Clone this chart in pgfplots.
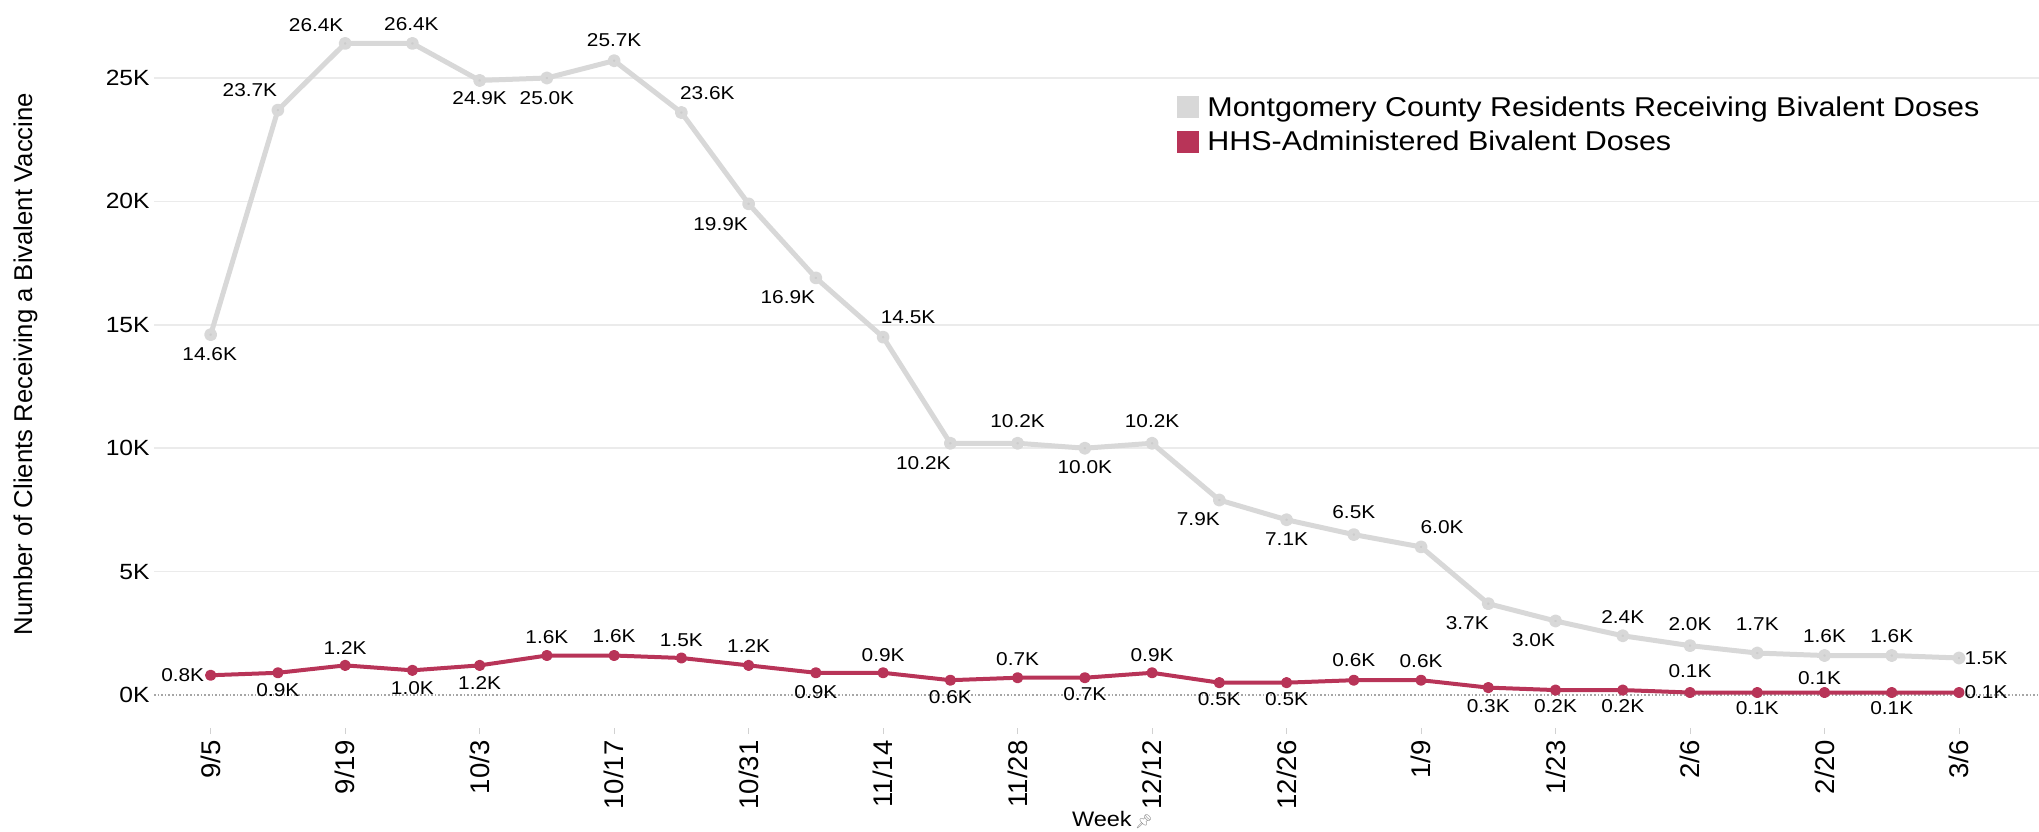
\documentclass[border=0pt]{standalone}
\usepackage{pgfplots}
\pgfplotsset{compat=1.18}
\usepackage{pgfplotstable}
\usepackage{fontspec}
\setmainfont{Liberation Sans}
\newfontfamily\tabfont{Liberation Sans}[FakeStretch=1.12]
\newfontfamily\tickfont{Liberation Sans}[FakeStretch=1.02]
\newfontfamily\emojifont{Noto Emoji}
\definecolor{mgray}{HTML}{D8D8D8}
\definecolor{mgraymark}{HTML}{CCCCCC}
\definecolor{hred}{HTML}{B83458}
\definecolor{gridc}{HTML}{EBEBEB}

% x = week index (0 = 9/5), y = thousands, dx/dy = label offset in px (dy downward)
\pgfplotstableread{
x y dx dy
0 14.6 -1 19
1 23.7 -28 -20
2 26.4 -29 -18
3 26.4 -1 -19
4 24.9 0 18
5 25.0 0 20
6 25.7 0 -21
7 23.6 26 -19
8 19.9 -28 20
9 16.9 -28 19
10 14.5 25 -20
11 10.2 -27 20
12 10.2 0 -22
13 10.0 0 19
14 10.2 0 -22
15 7.9 -21 19
16 7.1 0 19
17 6.5 0 -22
18 6.0 21 -20
19 3.7 -21 19
20 3.0 -22 19
21 2.4 0 -19
22 2.0 0 -22
23 1.7 0 -29
24 1.6 0 -19
25 1.6 0 -19
26 1.5 27 0
}\graydata

\pgfplotstableread{
x y dx dy
0 0.8 -28 0
1 0.9 0 17
2 1.2 0 -17
3 1.0 0 18
4 1.2 0 18
5 1.6 0 -18
6 1.6 0 -19
7 1.5 0 -18
8 1.2 0 -19
9 0.9 0 19
10 0.9 0 -18
11 0.6 0 17
12 0.7 0 -19
13 0.7 0 16
14 0.9 0 -18
15 0.5 0 16
16 0.5 0 16
17 0.6 0 -20
18 0.6 0 -19
19 0.3 0 18
20 0.2 0 16
21 0.2 0 16
22 0.1 0 -21
23 0.1 0 16
24 0.1 -5 -14
25 0.1 0 16
26 0.1 27 0
}\reddata

\pgfplotsset{
  lbl/.style={
    point meta=y,
    nodes near coords={\pgfmathprintnumber[fixed,fixed zerofill,precision=1,assume math mode=true]{\pgfplotspointmeta}K},
    visualization depends on={\thisrow{dx} \as \dx},
    visualization depends on={\thisrow{dy} \as \dy},
    every node near coord/.append style={anchor=center, inner sep=0pt,
      xshift=\dx*0.5pt, yshift=-\dy*0.5pt,
      font=\tabfont\fontsize{9.3}{10}\selectfont, text=black},
  },
}

\begin{document}
\begin{tikzpicture}
\begin{axis}[
  scale only axis, width=942.5pt, height=364pt,
  xmin=-0.843, xmax=27.19, ymin=-1.337, ymax=28.16,
  clip=false,
  axis line style={draw=none},
  xtick={0,2,...,26},
  xticklabels={9/5,9/19,10/3,10/17,10/31,11/14,11/28,12/12,12/26,1/9,1/23,2/6,2/20,3/6},
  xtick style={color=black!18, line width=0.5pt},
  tick align=outside, major tick length=3pt,
  xticklabel style={font=\tickfont\fontsize{13.5}{14}\selectfont, rotate=90, anchor=east, inner sep=0pt},
  xticklabel shift=3pt,
  ytick={5,10,15,20,25},
  yticklabels={5K,10K,15K,20K,25K},
  extra y ticks={0}, extra y tick labels={0K},
  extra y tick style={grid style={black!35, densely dotted, line width=0.6pt}},
  ytick style={draw=none},
  yticklabel style={font=\tabfont\fontsize{11}{12}\selectfont, anchor=east, inner sep=0pt},
  yticklabel shift=-1pt,
  ymajorgrids, grid style={gridc, line width=0.8pt},
  ylabel={Number of Clients Receiving a Bivalent Vaccine},
  ylabel style={at={(axis description cs:0,0.5)}, anchor=center, yshift=64.3pt, font=\fontsize{12.85}{14}\selectfont},
  xlabel={Week\,{\emojifont\fontsize{7}{7}\selectfont\color{black!45}📌}},
  xlabel style={at={(axis description cs:0.5,0)}, anchor=base, yshift=-49pt, xshift=8pt, font=\tabfont\fontsize{10.5}{12}\selectfont},
]
\addplot[mgray, line width=2.5pt, line join=round, mark=*, mark size=2pt,
  mark options={fill=mgraymark, draw=none}, lbl] table[x=x,y=y] {\graydata};
\addplot[hred, line width=2pt, line join=round, mark=*, mark size=1.8pt,
  mark options={fill=hred, draw=none}, lbl] table[x=x,y=y] {\reddata};
\end{axis}
\begin{scope}[shift={(current axis.north west)}, x=0.5pt, y=-0.5pt]
  \fill[mgray] (1023,96) rectangle (1045,118);
  \fill[hred] (1023,131) rectangle (1045,153);
  \node[anchor=base west, inner sep=0pt, font=\tabfont\fontsize{13.6}{15}\selectfont] at (1053,117) {Montgomery County Residents Receiving Bivalent Doses};
  \node[anchor=base west, inner sep=0pt, font=\tabfont\fontsize{13.6}{15}\selectfont] at (1053,151) {HHS-Administered Bivalent Doses};
\end{scope}
\pgfresetboundingbox
\path[use as bounding box] ([xshift=-77pt,yshift=-51.5pt]current axis.south west) rectangle (current axis.north east);
\end{tikzpicture}
\end{document}
